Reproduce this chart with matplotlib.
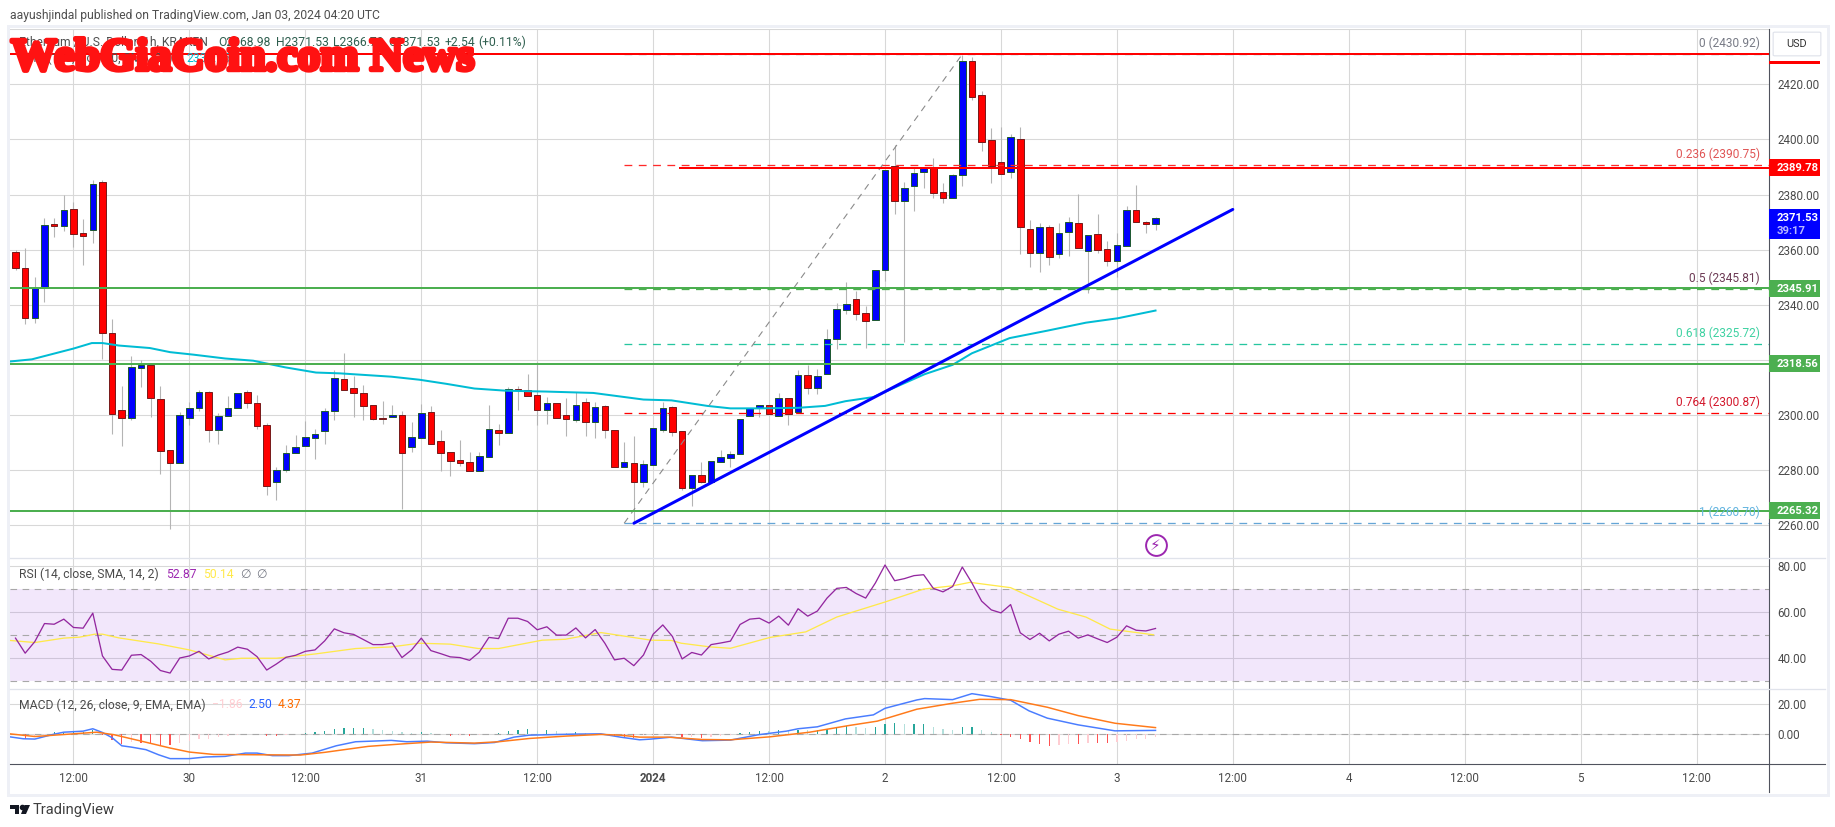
import matplotlib
matplotlib.use("Agg")
import matplotlib.pyplot as plt
import matplotlib.patheffects as pe
from matplotlib.patches import Rectangle, Polygon, FancyBboxPatch
import numpy as np

plt.rcParams['font.family'] = ['Roboto', 'DejaVu Sans']

W, H = 1835, 827

# hours since Dec 29 12:00, one candle per hour
hours = list(range(-6, 113))

opens = [2359.0, 2353.2, 2335.1, 2346.6, 2369.2, 2368.4, 2374.6, 2365.9, 2367.0, 2384.4,
         2329.7, 2301.7, 2299.0, 2317.2, 2318.0, 2305.7, 2287.2, 2282.7, 2299.0, 2302.4,
         2308.2, 2294.5, 2299.5, 2302.4, 2308.2, 2304.2, 2296.3, 2275.6, 2279.9, 2286.3,
         2288.6, 2291.8, 2294.1, 2301.3, 2312.9, 2309.7, 2307.9, 2303.5, 2298.8, 2299.4,
         2299.9, 2288.2, 2291.8, 2301.0, 2290.5, 2286.5, 2283.6, 2282.8, 2279.8, 2284.9,
         2294.4, 2293.6, 2309.5, 2308.9, 2307.1, 2301.9, 2304.2, 2299.9, 2298.0, 2304.6,
         2297.6, 2303.2, 2294.5, 2281.3, 2282.5, 2275.8, 2282.0, 2294.5, 2302.8, 2294.1,
         2273.6, 2278.1, 2275.5, 2283.1, 2284.5, 2285.7, 2299.8, 2302.4, 2303.5, 2299.5,
         2306.0, 2301.0, 2314.4, 2309.9, 2315.0, 2327.4, 2338.2, 2342.0, 2336.9, 2334.6,
         2352.5, 2390.5, 2377.8, 2383.2, 2388.3, 2390.0, 2380.8, 2378.9, 2387.0, 2428.3,
         2416.0, 2399.7, 2391.7, 2388.0, 2400.0, 2367.4, 2358.9, 2368.1, 2358.6, 2366.5,
         2369.6, 2359.6, 2365.6, 2360.1, 2356.0, 2361.4, 2374.3, 2369.9, 2369.2]
closes = [2353.2, 2335.1, 2346.0, 2368.8, 2368.4, 2374.3, 2365.8, 2365.0, 2383.7, 2329.7,
          2300.3, 2299.0, 2317.3, 2318.0, 2306.1, 2287.1, 2282.4, 2299.9, 2302.4, 2308.2,
          2294.5, 2299.5, 2302.4, 2307.9, 2304.2, 2295.9, 2274.1, 2279.9, 2286.1, 2288.3,
          2291.9, 2293.0, 2301.3, 2313.3, 2309.2, 2307.8, 2303.4, 2298.7, 2298.6, 2299.9,
          2286.3, 2291.9, 2300.6, 2289.6, 2286.3, 2283.4, 2282.7, 2279.8, 2285.0, 2294.8,
          2293.6, 2309.3, 2309.2, 2307.0, 2301.9, 2304.2, 2299.0, 2298.7, 2303.5, 2297.6,
          2302.8, 2294.5, 2281.3, 2282.8, 2275.8, 2282.1, 2295.2, 2302.4, 2294.0, 2273.6,
          2278.1, 2275.8, 2283.2, 2284.7, 2285.7, 2298.4, 2302.4, 2303.5, 2300.5, 2306.0,
          2300.5, 2314.4, 2309.9, 2314.0, 2327.5, 2338.4, 2340.2, 2336.8, 2334.2, 2352.5,
          2388.8, 2377.8, 2382.3, 2387.7, 2390.1, 2380.7, 2378.9, 2387.0, 2428.3, 2415.5,
          2399.2, 2390.4, 2387.6, 2400.8, 2368.3, 2358.9, 2368.1, 2357.2, 2365.9, 2369.9,
          2360.7, 2365.2, 2360.0, 2356.0, 2361.6, 2374.3, 2369.9, 2369.2, 2371.53]
highs = [2359.9, 2360.6, 2350.2, 2371.4, 2371.4, 2380.0, 2377.2, 2371.1, 2385.2, 2385.3,
         2334.9, 2310.5, 2321.4, 2320.0, 2318.0, 2310.5, 2287.2, 2301.0, 2304.7, 2309.1,
         2308.7, 2300.6, 2306.9, 2307.9, 2309.1, 2307.3, 2297.0, 2281.0, 2289.0, 2292.8,
         2297.8, 2294.8, 2302.4, 2316.3, 2322.4, 2314.2, 2310.8, 2303.5, 2305.1, 2303.6,
         2301.5, 2297.5, 2303.9, 2303.3, 2294.6, 2286.5, 2291.0, 2286.4, 2286.4, 2303.6,
         2296.8, 2310.0, 2310.5, 2314.9, 2319.4, 2306.5, 2304.2, 2306.2, 2308.5, 2306.2,
         2304.6, 2303.6, 2294.5, 2290.2, 2292.4, 2283.7, 2295.2, 2304.6, 2303.3, 2294.1,
         2278.1, 2283.0, 2283.2, 2287.3, 2286.8, 2298.4, 2302.4, 2303.5, 2303.5, 2307.9,
         2306.0, 2316.3, 2318.2, 2316.7, 2331.1, 2340.5, 2348.2, 2344.9, 2339.6, 2352.5,
         2388.8, 2398.0, 2384.4, 2389.5, 2390.1, 2393.1, 2384.1, 2387.5, 2430.6, 2429.8,
         2417.6, 2404.0, 2404.4, 2402.0, 2404.4, 2370.8, 2369.6, 2368.8, 2369.6, 2372.0,
         2380.1, 2365.2, 2372.9, 2363.2, 2365.9, 2375.8, 2383.5, 2370.3, 2371.7]
lows = [2352.6, 2333.0, 2333.5, 2341.1, 2364.5, 2366.9, 2360.9, 2354.4, 2362.3, 2320.3,
        2293.2, 2288.9, 2298.0, 2310.3, 2299.4, 2278.7, 2258.5, 2282.7, 2296.2, 2301.6,
        2290.3, 2289.6, 2299.5, 2302.4, 2302.7, 2294.8, 2271.1, 2269.3, 2279.4, 2286.3,
        2288.6, 2284.2, 2289.6, 2298.3, 2309.2, 2299.4, 2298.3, 2298.3, 2296.9, 2299.4,
        2265.9, 2286.6, 2291.8, 2289.6, 2279.8, 2278.0, 2281.6, 2279.8, 2279.8, 2284.9,
        2289.1, 2293.6, 2301.8, 2307.0, 2296.4, 2296.9, 2299.0, 2292.5, 2297.6, 2292.5,
        2291.8, 2291.8, 2281.3, 2281.3, 2260.7, 2274.0, 2282.0, 2293.7, 2292.2, 2272.6,
        2266.8, 2275.2, 2275.5, 2283.1, 2281.3, 2285.7, 2299.8, 2299.4, 2300.5, 2299.5,
        2296.2, 2301.0, 2307.6, 2307.6, 2315.0, 2324.0, 2336.7, 2334.5, 2324.4, 2334.6,
        2348.8, 2373.0, 2326.6, 2374.2, 2382.3, 2378.9, 2377.1, 2378.9, 2383.2, 2414.3,
        2395.9, 2384.3, 2387.6, 2386.1, 2358.6, 2353.8, 2352.0, 2354.4, 2357.1, 2357.8,
        2360.7, 2344.4, 2358.9, 2354.2, 2350.2, 2361.4, 2369.9, 2366.2, 2367.2]

ema_hours = [-6.6, -4.3, 0, 1.9, 3, 4.7, 7.9, 10, 12.4, 15.7, 18.6, 21.9, 25.1, 27.6, 32.9, 35.8,
             38.6, 41.5, 44.8, 48.9, 53.8, 59, 61.9, 65.6, 68, 70.9, 75, 77.8, 79.9, 82.8, 85.6,
             88.1, 91, 93, 96.9, 100.8, 104.8, 108.1, 112]
ema_vals = [2319.4, 2320.2, 2324.1, 2326.1, 2326.1, 2325.2, 2324.3, 2322.8, 2321.9, 2320.5, 2319.7,
            2317.3, 2315.4, 2315.1, 2313.9, 2312.8, 2311.3, 2309.6, 2308.8, 2308.5, 2308.0, 2305.6,
            2305.3, 2303.3, 2302.4, 2302.4, 2302.6, 2303.3, 2305.0, 2306.5, 2310.9, 2314.8, 2318.2,
            2322.4, 2327.9, 2330.6, 2333.5, 2335.1, 2337.9]

rsi_vals = [48.7, 42.2, 47.2, 55.0, 54.7, 56.9, 53.3, 53.0, 59.5, 41.0, 35.2, 34.9, 41.3, 41.6, 38.7,
            34.7, 33.6, 40.1, 41.0, 43.0, 39.7, 41.4, 42.7, 44.8, 43.9, 40.7, 34.9, 37.5, 40.4, 41.3,
            43.0, 43.6, 47.5, 52.7, 51.0, 50.3, 48.1, 45.9, 45.9, 46.6, 40.3, 43.6, 48.7, 43.3, 42.0,
            40.6, 40.3, 39.1, 42.6, 49.0, 48.5, 57.3, 57.3, 55.9, 52.3, 53.6, 50.0, 50.0, 53.1, 48.8,
            52.4, 46.5, 39.3, 40.0, 36.8, 41.4, 50.4, 54.4, 49.4, 39.7, 42.5, 41.4, 45.9, 46.6, 47.4,
            54.6, 56.9, 57.3, 55.2, 58.2, 54.3, 61.4, 58.2, 60.4, 66.0, 70.2, 70.6, 68.0, 66.0, 72.5,
            80.3, 73.5, 74.4, 75.7, 76.1, 70.2, 68.7, 71.0, 79.4, 72.5, 64.7, 60.9, 59.6, 63.2, 51.0,
            48.1, 50.8, 47.5, 50.4, 51.7, 48.7, 50.1, 48.4, 46.8, 49.1, 54.0, 52.1, 51.8, 52.87]

rsi_ma_hours = [-6.6, -4, -1, 0.6, 2.2, 3, 4.7, 8.8, 12, 15.7, 17.4, 21, 25.1, 29.2, 32.9, 35.8, 39,
                41.9, 44, 48.5, 50.9, 54.6, 59.8, 61.9, 62.9, 65.9, 68, 72.1, 75.8, 79, 84, 88, 91,
                92.8, 97, 101.9, 104.8, 107.3, 111.8]
rsi_ma_vals = [47.7, 46.8, 48.7, 49.1, 50.4, 50.4, 48.8, 46.2, 43.6, 39.3, 40.0, 40.0, 41.9, 44.2, 44.9,
               46.5, 46.1, 44.2, 44.2, 47.8, 48.2, 51.1, 47.8, 47.7, 46.5, 44.9, 44.3, 49.0, 51.4, 57.8,
               64.3, 69.9, 71.3, 72.8, 70.5, 61.2, 57.8, 52.6, 50.14]

macd_hours = [-6.6, -5.2, -4, -2, -1, 1, 2, 3, 4, 5, 6, 7.5, 8.8, 10, 12, 13.7, 15.7, 17.8, 19, 20.6,
              22.3, 24.7, 27.2, 29.2, 32.9, 34.5, 36.6, 38.6, 41.5, 43.6, 45.6, 47.2, 51.7, 54.6,
              56.6, 58.6, 59.8, 61.9, 65.1, 68, 70.9, 73.8, 75, 77, 79.9, 82.8, 84, 87.3, 88.1, 91,
              93, 95, 97, 98.9, 100.8, 104, 107.8, 112]
macd_vals = [-1.8, -3.1, -3.3, 0, 1.3, 2.0, 3.6, 1.1, -2.4, -7.8, -8.7, -10.4, -13.8, -16.4, -16.4,
             -15.3, -14.9, -12.7, -12.7, -14.4, -14.4, -12.7, -7.8, -5.1, -4.2, -5.1, -4.7, -5.8,
             -6.4, -5.6, -2.0, -0.7, 0, 0.2, -2.0, -3.8, -3.3, -2.0, -4.4, -4.0, -0.4, 2.0, 3.6, 4.9,
             10.2, 12.9, 17.3, 22.9, 23.8, 23.1, 27.1, 25.1, 22.7, 15.6, 10.7, 6.2, 2.2, 2.5]

signal_hours = [-6.6, -4, 0, 2.4, 4.2, 6.7, 10, 12, 14.5, 18.6, 23.5, 26, 30.5, 33.7, 37, 41.5, 44,
                47.2, 51, 54.6, 56.6, 58.6, 61.5, 65.1, 68, 72.1, 76.2, 80.3, 83.2, 87.3, 91, 93.8,
                97, 100.8, 104, 107.8, 112]
signal_vals = [0.2, -1.6, 0.2, 1.3, -0.4, -4.2, -9.3, -12.0, -13.6, -13.8, -14.0, -12.2, -8.2, -6.7,
               -5.3, -6.0, -5.1, -2.9, -1.3, -0.2, -0.7, -2.0, -2.0, -3.6, -3.8, -1.8, 1.3, 5.8, 8.7,
               16.7, 20.7, 23.3, 23.1, 18.0, 12.4, 7.3, 4.37]

hist_vals = [-0.5, -3.0, -1.0, -0.3, 1.2, 1.3, 1.5, 1.5, 2.5, -0.5, -4.0, -6.3, -5.0, -6.0, -6.3, -7.0,
             -7.6, -6.0, -4.5, -3.5, -3.0, -2.2, -1.0, -0.3, 0.3, 0.3, -1.0, -1.5, -0.5, -0.2, 0.5, 1.7,
             2.4, 3.6, 4.2, 4.2, 4.2, 3.2, 2.7, 2.0, 1.6, 0.8, 1.4, 0.6, 0.2, -1.0, -0.8, -1.2, -0.6,
             0.3, 0.6, 2.4, 2.6, 3.6, 2.0, 2.6, 1.8, 1.0, 1.4, 0.6, 0.2, -0.5, -1.0, -2.0, -2.4, -0.8,
             -0.4, 0.2, 0.3, -2.0, -1.8, -2.4, -1.6, -1.0, -0.3, 1.0, 1.5, 2.2, 2.0, 3.0, 2.4, 3.0, 2.5,
             2.6, 3.4, 4.6, 5.3, 4.8, 4.3, 5.0, 7.0, 7.5, 6.8, 6.8, 6.8, 4.8, 3.4, 2.9, 4.8, 5.0, 2.8,
             1.5, -0.5, -1.8, -3.5, -5.6, -6.9, -7.8, -7.5, -6.7, -6.9, -6.2, -6.2, -6.2, -5.6, -4.4,
             -3.5, -3.0, -1.86]

# fib levels and horizontal lines
fib_labels = ["0", "0.236", "0.5", "0.618", "0.764", "1"]
fib_values = [2430.92, 2390.75, 2345.81, 2325.72, 2300.87, 2260.70]
fib_colors = ["#787b86", "#e05555", "#6d3b55", "#3ed2a2", "#d3182c", "#64b5e0"]
fib_line_colors = ["#787b86", "#ff2a2a", "#4caf50", "#26c6a0", "#ff0000", "#64a5d6"]
green_levels = [2345.91, 2318.56, 2265.32]
red_level_top = 2430.92
red_level_mid = 2389.78
last_price = 2371.53
fib_start, fib_end = 57, 92
red_mid_start = 62.8
trend_x = [58, 120]
trend_y = [2260.7, 2374.6]

price_ticks = list(range(2260, 2441, 20))
time_ticks = [0, 12, 24, 36, 48, 60, 72, 84, 96, 108, 120, 132, 144, 156, 168]
time_labels = ["12:00", "30", "12:00", "31", "12:00", "2024", "12:00", "2",
               "12:00", "3", "12:00", "4", "12:00", "5", "12:00"]

GRID = "#d8d8d8"
TXT = "#4a4a4a"
FRAME = "#eef0f6"
PX = 0.72  # one pixel in points


def rect(x0, y0, x1, y1):
    # pixel box from the top left, as figure fractions
    return [x0 / W, 1 - y1 / H, (x1 - x0) / W, (y1 - y0) / H]


def label(x, y, s, color=TXT, size=8.7, ha="left", **kw):
    fig.text(x / W, 1 - y / H, s, color=color, fontsize=size, ha=ha, va="center", **kw)


def fx(x):
    return x / W


def fy(y):
    return 1 - y / H


fig = plt.figure(figsize=(W / 100, H / 100), dpi=100, facecolor="white")

# outer frame
fig.add_artist(Rectangle((fx(8), fy(795)), (1828 - 8) / W, (795 - 26) / H, transform=fig.transFigure,
                         facecolor="none", edgecolor=FRAME, linewidth=3 * PX))

ax = fig.add_axes(rect(10, 29, 1769, 558))
ax_rsi = fig.add_axes(rect(10, 558, 1769, 689))
ax_macd = fig.add_axes(rect(10, 689, 1769, 764))

for a in (ax, ax_rsi, ax_macd):
    a.set_xlim(-6.57, 175.5)
    a.set_xticks(time_ticks)
    a.grid(True, color=GRID, linewidth=1.1 * PX)
    a.set_axisbelow(True)
    a.yaxis.tick_right()
    a.tick_params(length=0, labelbottom=False, labelright=True, labelsize=8.4, labelcolor=TXT, pad=6)
    for s in a.spines.values():
        s.set_visible(False)
    a.spines["right"].set_visible(True)
    a.spines["right"].set_color("#50535e")
    a.spines["right"].set_linewidth(1.1 * PX)

# price pane
ax.set_ylim(2248.1, 2440.07)
ax.set_yticks(price_ticks)
ax.set_yticklabels(["" if t in (2320, 2440) else "%.2f" % t for t in price_ticks])

o = np.array(opens)
c = np.array(closes)
up = c >= o
ax.vlines(hours, lows, highs, color="#b4b4b4", linewidth=1.1 * PX, zorder=2)
ax.bar(hours, np.maximum(np.abs(c - o), 0.3), bottom=np.minimum(o, c), width=0.68,
       color=["#0000ff" if u else "#ff0000" for u in up],
       edgecolor=["#1f5a34" if u else "#7a1c1c" for u in up], linewidth=1.0 * PX, zorder=3)

ax.plot(ema_hours, ema_vals, color="#00bcd4", linewidth=2 * PX, zorder=4)

# fib lines
for v, lc in zip(fib_values, fib_line_colors):
    ax.plot([fib_start, 175.5], [v, v], color=lc, linewidth=1.3 * PX, dashes=(6, 5), zorder=4)
ax.plot([fib_start, fib_end], [fib_values[-1], fib_values[0]], color="#8a8a8a",
        linewidth=1.1 * PX, dashes=(6, 5), zorder=4)

for lv in green_levels:
    ax.axhline(lv, color="#4caf50", linewidth=2 * PX, zorder=5)
ax.axhline(red_level_top, color="#ff0000", linewidth=2 * PX, zorder=5)
ax.plot([red_mid_start, 175.5], [red_level_mid, red_level_mid], color="#ff0000",
        linewidth=2 * PX, zorder=5)
ax.plot(trend_x, trend_y, color="#0000ff", linewidth=3 * PX, zorder=6, solid_capstyle="round")

for lb, v, col in zip(fib_labels, fib_values, fib_colors):
    ax.annotate("%s (%.2f)" % (lb, v), (0.9947, v), xycoords=ax.get_yaxis_transform(),
                xytext=(0, 4), textcoords="offset pixels", ha="right", va="bottom",
                color=col, fontsize=8.6, zorder=7)

# price tags on the scale
trans = ax.get_yaxis_transform()
tag_w = 51 / 1759
tag_x = 1 + 0.0042


def tag(value, color, txt):
    ax.add_patch(Rectangle((1, value - 3.1), tag_w, 6.2, transform=trans, facecolor=color,
                           edgecolor="none", clip_on=False, zorder=8))
    ax.text(tag_x, value - 0.2, txt, transform=trans, color="white", fontsize=8.1,
            fontweight="bold", va="center", clip_on=False, zorder=9)


tag(red_level_mid, "#ff0000", "%.2f" % red_level_mid)
for lv in green_levels:
    tag(lv, "#4caf50", "%.2f" % lv)
ax.add_patch(Rectangle((1, last_price - 7.6), tag_w, 10.9, transform=trans, facecolor="#0000ff",
                       edgecolor="none", clip_on=False, zorder=8))
ax.text(tag_x, last_price - 0.1, "%.2f" % last_price, transform=trans, color="white",
        fontsize=8.1, fontweight="bold", va="center", clip_on=False, zorder=9)
ax.text(tag_x, last_price - 4.9, "39:17", transform=trans, color="#b8b8ff", fontsize=8.1,
        fontweight="bold", va="center", clip_on=False, zorder=9)
ax.add_patch(Rectangle((1, 2427.5), tag_w, 0.9, transform=trans, facecolor="#ff0000",
                       edgecolor="none", clip_on=False, zorder=8))

# USD button
fig.add_artist(FancyBboxPatch((fx(1775), fy(55)), 44 / W, 22 / H, boxstyle="round,pad=0.001",
                              transform=fig.transFigure, facecolor="white", edgecolor="#e0e3eb",
                              linewidth=1.2 * PX, zorder=10))
fig.text(fx(1797), fy(44), "USD", ha="center", va="center", fontsize=7.8, color="#333333", zorder=11)

# RSI pane
ax_rsi.set_ylim(80 - (477 - 108) / 6.925, 80 + (108 - 85) / 6.925)
ax_rsi.set_yticks([40, 60, 80])
ax_rsi.set_yticklabels(["40.00", "60.00", "80.00"])
ax_rsi.axhspan(30, 70, color="#8a2be2", alpha=0.11, linewidth=0, zorder=1.5)
for lv in (30, 50, 70):
    ax_rsi.axhline(lv, color="#a8a8a8", linewidth=1.1 * PX, dashes=(6, 5), zorder=2)
ax_rsi.plot(rsi_ma_hours, rsi_ma_vals, color="#ffe94a", linewidth=1.3 * PX, zorder=3)
ax_rsi.plot(hours, rsi_vals, color="#93279f", linewidth=1.3 * PX, zorder=4)

# MACD pane
ax_macd.set_ylim(-20, (613 - 477) / 4.5)
ax_macd.set_yticks([0, 20])
ax_macd.set_yticklabels(["0.00", "20.00"])
ax_macd.axhline(0, color="#a8a8a8", linewidth=1.1 * PX, dashes=(6, 5), zorder=1.6)
hist = np.array(hist_vals)
prev = np.r_[hist[0], hist[:-1]]
hist_cols = []
for v, p in zip(hist, prev):
    if v >= 0:
        hist_cols.append("#26a69a" if v >= p else "#b2dfdb")
    else:
        hist_cols.append("#ff5252" if v <= p else "#ffcdd2")
ax_macd.bar(hours, hist, width=0.13, color=hist_cols, zorder=2)
ax_macd.plot(macd_hours, macd_vals, color="#4a7dff", linewidth=1.5 * PX, zorder=3)
ax_macd.plot(signal_hours, signal_vals, color="#ff7a1a", linewidth=1.5 * PX, zorder=4)
ax_macd.set_xticklabels(time_labels)
ax_macd.tick_params(axis="x", labelbottom=True, pad=6, labelsize=8.4)
ax_macd.get_xticklabels()[5].set_fontweight("bold")

# pane separators, scale lines
for y in (558, 689):
    fig.add_artist(plt.Line2D([fx(10), fx(1825)], [fy(y), fy(y)], color="#e0e3eb", linewidth=1.3 * PX))
fig.add_artist(plt.Line2D([fx(10), fx(1825)], [fy(764), fy(764)], color="#50535e", linewidth=1.1 * PX))
fig.add_artist(plt.Line2D([fx(1769), fx(1769)], [fy(764), fy(792)], color="#50535e", linewidth=1.1 * PX))

# lightning marker
ax.plot([112], [2248.1 + (558 - 545) / 2.756], "o", ms=15, mfc="none", mec="#9c27b0", mew=1.4, zorder=7)
ax.text(112, 2248.1 + (558 - 545) / 2.756, "\u26a1", color="#9c27b0", fontsize=11, ha="center",
        va="center", family="DejaVu Sans", zorder=7)

# header and legends
label(10, 15, "aayushjindal published on TradingView.com, Jan 03, 2024 04:20 UTC", color="#4f4f4f")
label(18.6, 42, "Ethereum / U.S. Dollar, 1h, KRAKEN", color="#4f4f4f")
for x, s in [(218, "O2368.98"), (275.6, "H2371.53"), (333, "L2366.79"), (388, "C2371.53"),
             (445, "+2.54"), (478, "(+0.11%)")]:
    label(x, 42, s, color="#2f5f4f")
label(18.6, 58, "EMA (100, close, 0, SMA, 20)", color="#4f4f4f")
label(186, 58, "2337.75", color="#00bcd4")

label(18.6, 574, "RSI (14, close, SMA, 14, 2)")
label(166, 574, "52.87", color="#9c27b0")
label(203, 574, "50.14", color="#ffe94a")
label(240, 574, "\u2205", color="#787b86")
label(256, 574, "\u2205", color="#787b86")
label(18.6, 705, "MACD (12, 26, close, 9, EMA, EMA)")
label(211.5, 705, "\u22121.86", color="#ffcdd2")
label(248, 705, "2.50", color="#2962ff")
label(278, 705, "4.37", color="#ff6d00")

# watermark
fig.text(fx(11), fy(70), "WebGiaCoin.com News", family="Liberation Serif", fontweight="bold",
         fontsize=33, color="#ff1212", ha="left", va="baseline", zorder=20,
         path_effects=[pe.withStroke(linewidth=3.2, foreground="#ff1212")])

# footer logo
for pts in ([(10, 805), (19, 805), (19, 814), (14.5, 814), (14.5, 808.5), (10, 808.5)],
            [(24.5, 805), (30, 805), (26, 814), (21, 814)]):
    fig.add_artist(Polygon([(fx(a), fy(b)) for a, b in pts], transform=fig.transFigure,
                           facecolor="#131722", edgecolor="none"))
fig.add_artist(plt.Line2D([fx(21.8)], [fy(806.8)], marker="o", ms=3, color="#131722",
                          transform=fig.transFigure))
label(33, 810, "TradingView", color="#3f3f3f", size=10.6)

fig.savefig("out.png", dpi=100)
